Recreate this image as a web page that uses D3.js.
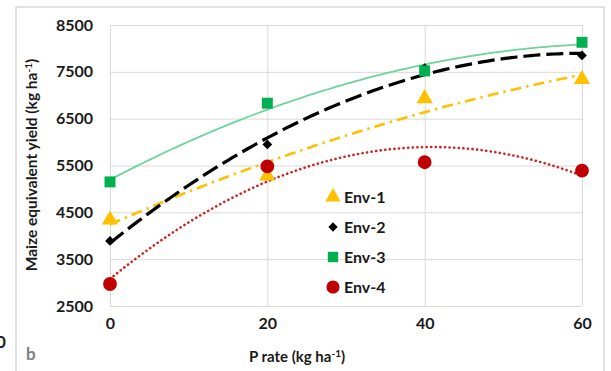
<!DOCTYPE html>
<html>
<head>
<meta charset="utf-8">
<script src="https://cdn.jsdelivr.net/npm/d3@7"></script>
<style>
  body { margin: 0; background: #fff; }
  text { font-family: Lato, "Open Sans", sans-serif; font-weight: bold; fill: #1a1a1a; }
</style>
</head>
<body>
<svg id="chart" width="611" height="371"></svg>
<script>
// 데이터
const pRates = [0, 20, 40, 60];
const env1 = [4340, 5280, 6930, 7340];
const env2 = [3890, 5950, 7580, 7850];
const env3 = [5150, 6830, 7520, 8130];
const env4 = [2970, 5480, 5570, 5390];
const seriesNames = ["Env-1", "Env-2", "Env-3", "Env-4"];
const yTicks = [2500, 3500, 4500, 5500, 6500, 7500, 8500];

const svg = d3.select("#chart");

// 외곽 프레임
svg.append("path")
  .attr("d", "M16,371 V7 H604 V371")
  .attr("fill", "none")
  .attr("stroke", "#d9d9d9")
  .attr("stroke-width", 1.5);

const x = d3.scaleLinear().domain([0, 60]).range([110, 582]);
const y = d3.scaleLinear().domain([2500, 8500]).range([306, 25]);

// 그리드
svg.append("g")
  .attr("transform", "translate(110,0)")
  .call(d3.axisLeft(y).tickValues(yTicks).tickSize(-(582 - 110)).tickFormat(""))
  .call(g => g.select(".domain").remove())
  .selectAll(".tick line").attr("stroke", "#d9d9d9");

svg.append("g")
  .attr("transform", "translate(0,306)")
  .call(d3.axisBottom(x).tickValues(pRates).tickSize(-(306 - 25)).tickFormat(""))
  .call(g => g.select(".domain").remove())
  .selectAll(".tick line").attr("stroke", "#d9d9d9");

// 축 라벨
const yAxis = svg.append("g")
  .attr("transform", "translate(93,0)")
  .call(d3.axisLeft(y).tickValues(yTicks).tickSize(0).tickPadding(0).tickFormat(d3.format("d")));
yAxis.select(".domain").remove();
yAxis.selectAll("text").style("font-size", "16px").style("font-family", "Lato, sans-serif").attr("fill", "#1a1a1a");

const xAxis = svg.append("g")
  .attr("transform", "translate(0,318)")
  .call(d3.axisBottom(x).tickValues(pRates).tickSize(0).tickPadding(0));
xAxis.select(".domain").remove();
xAxis.selectAll("text").style("font-size", "16px").style("font-family", "Lato, sans-serif").attr("fill", "#1a1a1a");

// 축 제목
const yt = svg.append("text")
  .attr("transform", "translate(37,165) rotate(-90)")
  .attr("text-anchor", "middle")
  .style("font-size", "15.5px");
yt.append("tspan").text("Maize equivalent yield (kg ha");
yt.append("tspan").attr("dy", -5).style("font-size", "10px").text("-1");
yt.append("tspan").attr("dy", 5).text(")");

const xt = svg.append("text")
  .attr("x", 297).attr("y", 362)
  .attr("text-anchor", "middle")
  .style("font-size", "15px");
xt.append("tspan").text("P rate (kg ha");
xt.append("tspan").attr("dy", -5).style("font-size", "10px").text("-1");
xt.append("tspan").attr("dy", 5).text(")");

svg.append("text").attr("x", 26).attr("y", 360).style("font-size", "17px").style("fill", "#808080").text("b");
svg.append("text").attr("x", -4).attr("y", 348).style("font-size", "17px").text("0");

// 2차 다항식 추세선 (최소제곱)
function quadFit(xs, ys) {
  let S = [0, 0, 0, 0, 0], T = [0, 0, 0];
  xs.forEach((xv, i) => {
    for (let k = 0; k < 5; k++) S[k] += Math.pow(xv, k);
    for (let k = 0; k < 3; k++) T[k] += ys[i] * Math.pow(xv, k);
  });
  const A = [[S[0], S[1], S[2], T[0]], [S[1], S[2], S[3], T[1]], [S[2], S[3], S[4], T[2]]];
  for (let i = 0; i < 3; i++) {
    for (let j = i + 1; j < 3; j++) {
      const f = A[j][i] / A[i][i];
      for (let k = i; k < 4; k++) A[j][k] -= f * A[i][k];
    }
  }
  const c = [0, 0, 0];
  for (let i = 2; i >= 0; i--) {
    let s = A[i][3];
    for (let k = i + 1; k < 3; k++) s -= A[i][k] * c[k];
    c[i] = s / A[i][i];
  }
  return xv => c[0] + c[1] * xv + c[2] * xv * xv;
}

// 다이아몬드 = 45도 회전한 정사각형
const series = [
  { name: seriesNames[0], vals: env1, color: "#ffc000", line: "#ffc000", dash: "11,5,2.5,5", width: 2.6, shape: d3.symbolTriangle, size: 115, rot: 0 },
  { name: seriesNames[1], vals: env2, color: "#000000", line: "#000000", dash: "17,6", width: 3.2, shape: d3.symbolSquare, size: 48, rot: 45 },
  { name: seriesNames[2], vals: env3, color: "#00b050", line: "#6fd49c", dash: null, width: 1.8, shape: d3.symbolSquare, size: 120, rot: 0 },
  { name: seriesNames[3], vals: env4, color: "#c00000", line: "#d21f1f", dash: "0.1,4.5", width: 2.6, shape: d3.symbolCircle, size: 150, rot: 0 }
];

const line = d3.line().x(d => x(d[0])).y(d => y(d[1]));
const xsDense = d3.range(0, 60.01, 0.5);

[series[3], series[0], series[2], series[1]].forEach(s => {
  const f = quadFit(pRates, s.vals);
  svg.append("path")
    .datum(xsDense.map(v => [v, f(v)]))
    .attr("d", line)
    .attr("fill", "none")
    .attr("stroke", s.line)
    .attr("stroke-width", s.width)
    .attr("stroke-linecap", s.name === "Env-4" ? "round" : "butt")
    .attr("stroke-dasharray", s.dash);
});

// 마커
series.forEach(s => {
  svg.append("g").selectAll("path")
    .data(pRates.map((p, i) => [p, s.vals[i]]))
    .join("path")
    .attr("d", d3.symbol().type(s.shape).size(s.size))
    .attr("transform", d => `translate(${x(d[0])},${y(d[1])}) rotate(${s.rot})`)
    .attr("fill", s.color);
});

// 범례
const legend = svg.append("g");
series.forEach((s, i) => {
  const ly = 197 + i * 30;
  legend.append("path")
    .attr("d", d3.symbol().type(s.shape).size(s.size * 0.9))
    .attr("transform", `translate(333,${ly}) rotate(${s.rot})`)
    .attr("fill", s.color);
  legend.append("text")
    .attr("x", 344).attr("y", ly + 5.5)
    .style("font-size", "16px")
    .text(s.name);
});
</script>
</body>
</html>
